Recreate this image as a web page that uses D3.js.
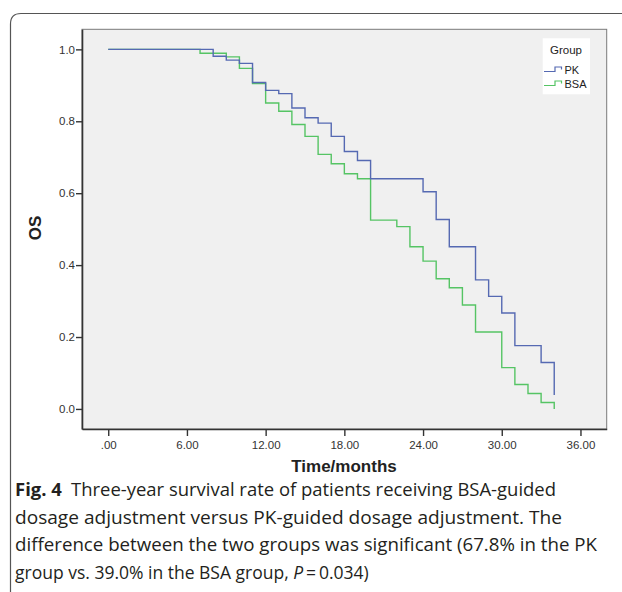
<!DOCTYPE html>
<html>
<head>
<meta charset="utf-8">
<script src="https://cdn.jsdelivr.net/npm/d3@7"></script>
<style>
  body { margin: 0; background: #fff; }
  #wrapper svg { display: block; }
</style>
</head>
<body>
<div id="wrapper"></div>
<script>
// Kaplan-Meier steps (months, survival)
const pkTimes = [0, 8, 9, 10, 11, 12, 13, 14, 15, 16, 17, 18, 19, 20, 24, 25, 26, 28, 29, 30, 31, 33, 34]
const pkSurv = [1.0, 0.981, 0.970, 0.961, 0.908, 0.886, 0.877, 0.837, 0.810, 0.795, 0.758, 0.716, 0.691, 0.640, 0.604, 0.527, 0.451, 0.359, 0.313, 0.267, 0.176, 0.129, 0.039]
const bsaTimes = [0, 7, 9, 10, 11, 12, 13, 14, 15, 16, 17, 18, 19, 20, 22, 23, 24, 25, 26, 27, 28, 30, 31, 32, 33, 34]
const bsaSurv = [1.0, 0.989, 0.979, 0.947, 0.905, 0.851, 0.828, 0.791, 0.758, 0.708, 0.682, 0.654, 0.640, 0.525, 0.507, 0.451, 0.411, 0.362, 0.337, 0.289, 0.214, 0.115, 0.068, 0.043, 0.018, 0.0]
const groups = ['PK', 'BSA']
const xTicks = [0, 6, 12, 18, 24, 30, 36]
const yTicks = [0, 0.2, 0.4, 0.6, 0.8, 1.0]
const captionLines = [
    'Three-year survival rate of patients receiving BSA-guided',
    'dosage adjustment versus PK-guided dosage adjustment. The',
    'difference between the two groups was significant (67.8% in the PK',
    'group vs. 39.0% in the BSA group, '
]

function drawChart() {
    const width = 622
    const height = 592
    const panel = { left: 82, right: 606.7, top: 29.3, bottom: 429 }
    const colors = { PK: '#5569b2', BSA: '#55c464' }

    const svg = d3.select('#wrapper').append('svg')
        .attr('width', width)
        .attr('height', height)
        .style('font-family', '"Liberation Sans", Arial, sans-serif')

    // outer figure frame with rounded corner
    svg.append('path')
        .attr('d', `M10.5,${height} L10.5,24 Q10.5,13.5 21,13.5 L${width},13.5`)
        .attr('fill', 'none')
        .attr('stroke', '#555')
        .attr('stroke-width', 1.2)

    const xScale = d3.scaleLinear()
        .domain([-2, 38])
        .range([panel.left, panel.right])

    const yScale = d3.scaleLinear()
        .domain([-0.0558, 1.0558])
        .range([panel.bottom, panel.top])

    svg.append('rect')
        .attr('x', panel.left)
        .attr('y', panel.top)
        .attr('width', panel.right - panel.left)
        .attr('height', panel.bottom - panel.top)
        .attr('fill', '#f0f0f0')
        .attr('stroke', '#7a7a7a')
        .attr('stroke-width', 1)

    const line = d3.line()
        .x(d => xScale(d.t))
        .y(d => yScale(d.s))
        .curve(d3.curveStepAfter)

    const series = [
        { name: 'PK', values: pkTimes.map((t, i) => ({ t, s: pkSurv[i] })) },
        { name: 'BSA', values: bsaTimes.map((t, i) => ({ t, s: bsaSurv[i] })) }
    ]

    // green first so blue sits on top where they overlap
    svg.selectAll('.km')
        .data(series.slice().reverse())
        .enter()
        .append('path')
        .attr('class', 'km')
        .attr('d', d => line(d.values))
        .attr('fill', 'none')
        .attr('stroke', d => colors[d.name])
        .attr('stroke-width', 1.4)

    const xAxis = d3.axisBottom(xScale)
        .tickValues(xTicks)
        .tickSize(7)
        .tickSizeOuter(0)
        .tickFormat(d => d === 0 ? '.00' : d3.format('.2f')(d))
    const yAxis = d3.axisLeft(yScale)
        .tickValues(yTicks)
        .tickSize(6)
        .tickSizeOuter(0)
        .tickFormat(d3.format('.1f'))

    const gx = svg.append('g')
        .attr('transform', `translate(0,${panel.bottom})`)
        .call(xAxis)
    const gy = svg.append('g')
        .attr('transform', `translate(${panel.left},0)`)
        .call(yAxis)

    for (const g of [gx, gy]) {
        g.select('.domain').attr('stroke', '#333').attr('stroke-width', 1.6)
        g.selectAll('.tick line').attr('stroke', '#333').attr('stroke-width', 1.4)
        g.selectAll('.tick text')
            .attr('fill', '#333')
            .style('font-size', '11.5px')
            .style('font-family', '"Liberation Sans", Arial, sans-serif')
    }
    gx.selectAll('.tick text').attr('dy', '0.71em').attr('y', 12)
    gy.selectAll('.tick text').attr('x', -7)

    svg.append('text')
        .attr('x', 344)
        .attr('y', 472)
        .attr('text-anchor', 'middle')
        .style('font-size', '17px')
        .style('font-weight', 'bold')
        .attr('fill', '#222')
        .text('Time/months')

    svg.append('text')
        .attr('transform', 'translate(41,228) rotate(-90)')
        .attr('text-anchor', 'middle')
        .style('font-size', '17px')
        .style('font-weight', 'bold')
        .attr('fill', '#222')
        .text('OS')

    // legend
    const legend = svg.append('g')
    legend.append('rect')
        .attr('x', 542.7)
        .attr('y', 38.3)
        .attr('width', 47.3)
        .attr('height', 56)
        .attr('fill', '#fff')
    legend.append('text')
        .attr('x', 566)
        .attr('y', 53.5)
        .attr('text-anchor', 'middle')
        .style('font-size', '11.5px')
        .attr('fill', '#222')
        .text('Group')
    groups.forEach((g, i) => {
        const y = 71.5 + i * 14
        legend.append('path')
            .attr('d', `M544,${y} L555,${y} L555,${y - 4.5} L561.5,${y - 4.5} L561.5,${y - 2}`)
            .attr('fill', 'none')
            .attr('stroke', colors[g])
            .attr('stroke-width', 1.2)
        legend.append('text')
            .attr('x', 564.5)
            .attr('y', y + 2.5)
            .style('font-size', '11px')
            .attr('fill', '#222')
            .text(g)
    })

    // caption
    const capFont = '"Open Sans", "Noto Sans", sans-serif'
    const capWidths = [541, 547, 582, null]
    const capBase = [496, 523.5, 551, 578.5]
    captionLines.forEach((txt, i) => {
        const t = svg.append('text')
            .attr('x', 15)
            .attr('y', capBase[i])
            .style('font-family', capFont)
            .style('font-size', '18px')
            .attr('fill', '#231f20')
        if (capWidths[i]) {
            t.attr('textLength', capWidths[i]).attr('lengthAdjust', 'spacingAndGlyphs')
        }
        if (i === 0) {
            t.append('tspan').style('font-weight', 'bold').text('Fig. 4')
            t.append('tspan').text('\u2002' + txt)
        } else if (i === 3) {
            t.style('font-size', '17.5px')
            t.append('tspan').text(txt)
            t.append('tspan').style('font-style', 'italic').text('P')
            t.append('tspan').text('\u2009=\u20090.034)')
        } else {
            t.text(txt)
        }
    })
}

drawChart()
</script>
</body>
</html>
